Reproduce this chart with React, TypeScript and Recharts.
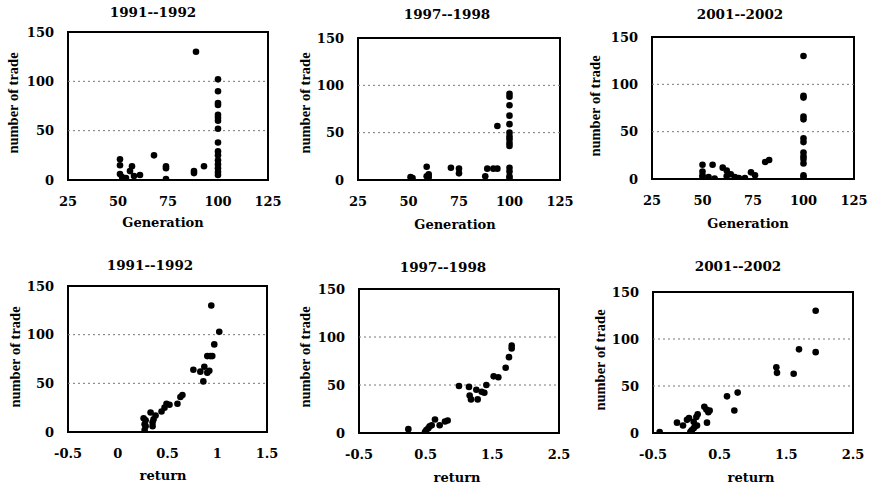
import React from 'react';
import { ScatterChart, Scatter, XAxis, YAxis, ReferenceLine, ReferenceArea } from 'recharts';

// ---------- data ----------
const periods = ['1991--1992', '1997--1998', '2001--2002'];
const tradeTicks = [0, 50, 100, 150];
const generationTicks = [25, 50, 75, 100, 125];
const return9192Ticks = [-0.5, 0, 0.5, 1, 1.5];
const returnWideTicks = [-0.5, 0.5, 1.5, 2.5];

// Generation vs number of trade
const gen9192Generation = [89, 100, 100, 100, 100, 100, 100, 100, 100, 100, 100, 100, 100, 100, 100, 100, 100,
  51, 51, 51, 52, 54, 56, 57, 58, 61, 68, 74, 74, 74, 88, 88, 93];
const gen9192Trades = [130, 102, 90, 78, 76, 66, 63, 60, 52, 38, 29, 25, 20, 16, 12, 8, 5,
  21, 15, 6, 3, 2, 9, 14, 4, 5, 25, 14, 12, 1, 9, 7, 14];

const gen9798Generation = [51, 52, 59, 59, 60, 60, 71, 75, 75, 88, 89, 92, 94, 94,
  100, 100, 100, 100, 100, 100, 100, 100, 100, 100, 100, 100, 100, 100];
const gen9798Trades = [3, 2, 4, 14, 6, 3, 13, 12, 7, 4, 12, 12, 12, 57,
  91, 88, 79, 68, 59, 50, 46, 43, 39, 36, 13, 9, 4, 1.5];

const gen0102Generation = [100, 100, 100, 100, 100, 100, 100, 100, 100, 100, 100, 100, 100,
  50, 55, 50, 50, 50, 53, 56, 60, 62, 62, 64, 66, 68, 71, 74, 76, 81, 83];
const gen0102Trades = [130, 88, 86, 66, 63, 43, 39, 28, 24, 21, 16.5, 4, 2,
  15, 15, 8, 4, 2, 2, 0.5, 12, 9, 3, 5, 2, 1, 1, 7, 4, 18, 20];

// Return vs number of trade
const ret9192Return = [0.94, 1.02, 0.97, 0.90, 0.93, 0.95, 0.76, 0.83, 0.87, 0.90, 0.92, 0.86, 0.65, 0.63, 0.60,
  0.52, 0.49, 0.44, 0.47, 0.36, 0.35, 0.33, 0.38, 0.26, 0.28, 0.28, 0.27, 0.27, 0.35];
const ret9192Trades = [130, 103, 90, 78, 78, 78, 64, 62, 67, 61, 63, 52, 38, 36, 29,
  28, 29, 21, 25, 13, 10, 20, 17, 14, 12, 6, 2, 8, 6];

const ret9798Return = [0.24, 0.49, 0.51, 0.54, 0.56, 0.59, 0.64, 0.71, 0.79, 0.83, 1.0, 1.15, 1.16, 1.18, 1.26,
  1.28, 1.34, 1.38, 1.41, 1.52, 1.59, 1.70, 1.75, 1.79, 1.79];
const ret9798Trades = [4, 1, 3, 5, 7, 8, 14, 8, 12, 13, 49, 48, 39, 35, 45,
  35, 43, 42, 50, 59, 58, 68, 79, 91, 88];

const ret0102Return = [-0.40, -0.14, -0.05, 0.01, 0.04, 0.11, 0.06, 0.08, 0.11, 0.13, 0.16, 0.08, 0.17, 0.15,
  0.27, 0.30, 0.33, 0.35, 0.31, 0.61, 0.77, 0.72, 1.35, 1.36, 1.61, 1.69, 1.94, 1.94];
const ret0102Trades = [1, 11, 8, 14, 16, 12, 1, 3, 5, 7, 8, 0, 20, 17,
  28, 25, 22, 24, 11, 39, 43, 24, 70, 64, 63, 89, 130, 86];

const zip = (xs: number[], ys: number[]) => xs.map((x, i) => ({ x, y: ys[i] }));

// ---------- layout ----------
const SERIF = "'DejaVu Serif', serif";

type Rect = { x0: number; x1: number; y0: number; y1: number };
type P = { x: number; y: number };

const panels = [
  { data: zip(gen9192Generation, gen9192Trades), ticks: generationTicks, domain: [25, 125], title: periods[0], xLabel: 'Generation',
    rect: { x0: 68, x1: 268, y0: 32, y1: 180 }, titleAt: { x: 153, y: 13 }, xLabelAt: { x: 163, y: 222 }, yLabelAt: { x: 13, y: 103 } },
  { data: zip(gen9798Generation, gen9798Trades), ticks: generationTicks, domain: [25, 125], title: periods[1], xLabel: 'Generation',
    rect: { x0: 358, x1: 560, y0: 38, y1: 180 }, titleAt: { x: 447, y: 15 }, xLabelAt: { x: 455, y: 224 }, yLabelAt: { x: 305, y: 103 } },
  { data: zip(gen0102Generation, gen0102Trades), ticks: generationTicks, domain: [25, 125], title: periods[2], xLabel: 'Generation',
    rect: { x0: 652, x1: 854, y0: 37, y1: 179 }, titleAt: { x: 740, y: 15 }, xLabelAt: { x: 748, y: 223 }, yLabelAt: { x: 595, y: 106 } },
  { data: zip(ret9192Return, ret9192Trades), ticks: return9192Ticks, domain: [-0.5, 1.5], title: periods[0], xLabel: 'return',
    rect: { x0: 68, x1: 267, y0: 286, y1: 432 }, titleAt: { x: 150, y: 266 }, xLabelAt: { x: 163, y: 475 }, yLabelAt: { x: 15, y: 357 } },
  { data: zip(ret9798Return, ret9798Trades), ticks: returnWideTicks, domain: [-0.5, 2.5], title: periods[1], xLabel: 'return',
    rect: { x0: 359, x1: 559, y0: 289, y1: 433 }, titleAt: { x: 443, y: 268 }, xLabelAt: { x: 457, y: 477 }, yLabelAt: { x: 305, y: 357 } },
  { data: zip(ret0102Return, ret0102Trades), ticks: returnWideTicks, domain: [-0.5, 2.5], title: periods[2], xLabel: 'return',
    rect: { x0: 653, x1: 853, y0: 292, y1: 433 }, titleAt: { x: 738, y: 267 }, xLabelAt: { x: 751, y: 477 }, yLabelAt: { x: 600, y: 360 } },
];

const Dot = (props: any) => {
  const { cx, cy } = props;
  if (cx == null || cy == null) return null;
  return <circle cx={cx} cy={cy} r={3.3} fill="#000" />;
};

const tickTextStyle: React.CSSProperties = { fontFamily: SERIF, fontWeight: 700, fontSize: 13, fill: '#000' };

const XTick = (props: any) => {
  const { x, y, payload } = props;
  return (
    <text x={x} y={y} dy="0.75em" textAnchor="middle" style={tickTextStyle}>{String(payload.value)}</text>
  );
};

const YTick = (props: any) => {
  const { x, y, payload } = props;
  return (
    <text x={x} y={y} dy="0.36em" textAnchor="end" style={tickTextStyle}>{String(payload.value)}</text>
  );
};

function Panel(props: {
  data: P[]; ticks: number[]; domain: number[]; title: string; xLabel: string; rect: Rect;
  titleAt: { x: number; y: number }; xLabelAt: { x: number; y: number }; yLabelAt: { x: number; y: number };
}) {
  const { data, ticks, domain, title, xLabel, rect, titleAt, xLabelAt, yLabelAt } = props;
  const LEFT = 70, TOP = 10, RIGHT = 24, BOTTOM = 50;
  const plotW = rect.x1 - rect.x0;
  const plotH = rect.y1 - rect.y0;
  return (
    <>
      <div style={{ position: 'absolute', left: rect.x0 - LEFT, top: rect.y0 - TOP }}>
        <ScatterChart width={LEFT + plotW + RIGHT} height={TOP + plotH + BOTTOM}
          margin={{ top: TOP, right: RIGHT, left: 0, bottom: 0 }} style={{ overflow: 'visible' }}>
          <XAxis type="number" dataKey="x" domain={domain as [number, number]} ticks={ticks} interval={0}
            allowDataOverflow height={BOTTOM} axisLine={false} tickLine={false} tickSize={6} tickMargin={10}
            tick={<XTick />} />
          <YAxis type="number" dataKey="y" domain={[0, 150]} ticks={tradeTicks} interval={0}
            allowDataOverflow width={LEFT} axisLine={false} tickLine={false} tickSize={6} tickMargin={8}
            tick={<YTick />} />
          <ReferenceLine y={50} stroke="#777" strokeWidth={1} strokeDasharray="2 3" />
          <ReferenceLine y={100} stroke="#777" strokeWidth={1} strokeDasharray="2 3" />
          <ReferenceArea x1={domain[0]} x2={domain[1]} y1={0} y2={150} fill="none" fillOpacity={0}
            stroke="#000" strokeWidth={2} />
          <Scatter data={data} fill="#000" shape={Dot} isAnimationActive={false} />
        </ScatterChart>
      </div>
      <div style={{ position: 'absolute', left: titleAt.x, top: titleAt.y, transform: 'translate(-50%, -50%)',
        fontFamily: SERIF, fontWeight: 'bold', fontSize: 13.5, lineHeight: 1, whiteSpace: 'nowrap', color: '#000' }}>
        {title}
      </div>
      <div style={{ position: 'absolute', left: xLabelAt.x, top: xLabelAt.y, transform: 'translate(-50%, -50%)',
        fontFamily: SERIF, fontWeight: 'bold', fontSize: 13, lineHeight: 1, whiteSpace: 'nowrap', color: '#000' }}>
        {xLabel}
      </div>
      <div style={{ position: 'absolute', left: yLabelAt.x, top: yLabelAt.y, transform: 'translate(-50%, -50%) rotate(-90deg)',
        fontFamily: "'Liberation Serif', serif", fontWeight: 'bold', fontSize: 14.5, lineHeight: 1, whiteSpace: 'nowrap', color: '#000' }}>
        number of trade
      </div>
    </>
  );
}

export default function App() {
  return (
    <div style={{ position: 'absolute', left: 0, top: 0, width: 871, height: 486, background: '#fff', overflow: 'hidden' }}>
      {panels.map((p, i) => (
        <Panel key={i} {...p} />
      ))}
    </div>
  );
}
